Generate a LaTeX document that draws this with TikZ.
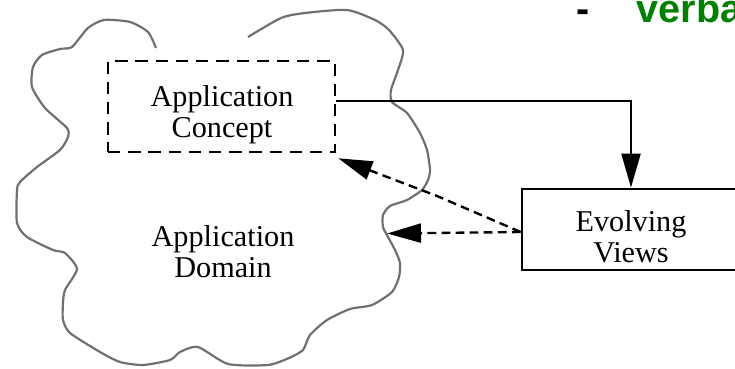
\documentclass[tikz,border=0pt]{standalone}
\usepackage{fontspec}
\setmainfont{Liberation Serif}
\setsansfont{Liberation Sans}
\usetikzlibrary{arrows.meta}
\definecolor{cloudgray}{RGB}{112,112,112}
\definecolor{bulletgreen}{RGB}{0,128,0}

\begin{document}
\begin{tikzpicture}[
    lbl/.style={align=center, inner sep=0pt, font=\fontsize{17.2}{17.6}\selectfont},
    conceptbox/.style={draw, line width=1.5pt, dash pattern=on 7pt off 4.5pt, minimum width=4.54cm, minimum height=1.82cm, inner sep=0pt},
    viewbox/.style={draw, line width=1.6pt, minimum width=4.36cm, minimum height=1.62cm, inner sep=0pt},
    flow/.style={line width=1.35pt, -{Triangle[length=0.68cm, width=0.38cm]}},
    hint/.style={flow, dash pattern=on 5pt off 3pt},
    cloud/.style={cloudgray, line width=1.25pt, line join=round},
    bullet/.style={anchor=base west, inner sep=0pt, font=\sffamily\bfseries\fontsize{22.5}{26}\selectfont}
  ]
    \useasboundingbox (0,0) rectangle (14.7,7.36);
    \draw[cloud] plot[smooth, tension=0.4] coordinates {
        (3.12,6.40) (2.96,6.72) (2.60,6.92) (2.08,6.96) (1.76,6.80) (1.44,6.42)
        (1.20,6.38) (0.84,6.26) (0.66,6.02) (0.64,5.62) (0.90,5.20) (1.34,4.80)
        (1.36,4.62) (1.20,4.36) (0.74,4.02) (0.40,3.72) (0.34,3.56) (0.34,2.90)
        (0.54,2.62) (1.06,2.36) (1.30,2.30) (1.54,1.98) (1.30,1.56) (1.26,1.30)
        (1.26,0.96) (1.40,0.70) (2.00,0.32) (2.40,0.12) (2.86,0.06) (3.40,0.16)
        (3.60,0.32) (3.96,0.42) (4.56,0.08) (5.36,0.06) (5.78,0.20) (6.06,0.36)
        (6.20,0.66) (6.54,0.96) (7.00,1.18) (7.44,1.26) (7.84,1.52) (7.98,1.82)
        (8.00,2.10) (7.90,2.36) (7.76,2.62) (7.66,2.82) (7.66,3.06) (7.80,3.24)
        (8.14,3.36) (8.44,3.56) (8.56,3.76) (8.60,3.96) (8.54,4.36) (8.40,4.70)
        (8.14,5.10) (7.84,5.32) (7.82,5.56) (7.96,5.96) (8.06,6.36) (7.78,6.76)
        (7.50,6.96) (6.94,7.16) (6.10,7.10) (5.62,7.00) (4.96,6.62)};
    \node[conceptbox] (concept) at (4.43,5.23) {};
    \node[lbl] (concepttext) at (4.44,5.06) {Application\\Concept};
    \node[lbl] (domain) at (4.46,2.32) {Application\\Domain};
    \node[viewbox] (views) at (12.62,2.77) {};
    \node[lbl] (viewstext) at (12.62,2.63) {Evolving\\Views};
    \coordinate (kink) at (8.74,3.44);
    \coordinate (domainedge) at (7.74,2.69);
    \draw[flow] ([yshift=0.11cm]concept.east) -| (views.north);
    \draw[hint] ([yshift=-0.05cm]views.west) -- (kink) -- ([shift={(0.04,-0.1)}]concept.south east);
    \draw[hint] ([yshift=-0.05cm]views.west) -- (domainedge);
    \node[bullet] (dash) at (11.53,6.90) {-};
    \node[bullet, text=bulletgreen] (verbal) at (12.73,6.90) {verba};
\end{tikzpicture}
\end{document}
